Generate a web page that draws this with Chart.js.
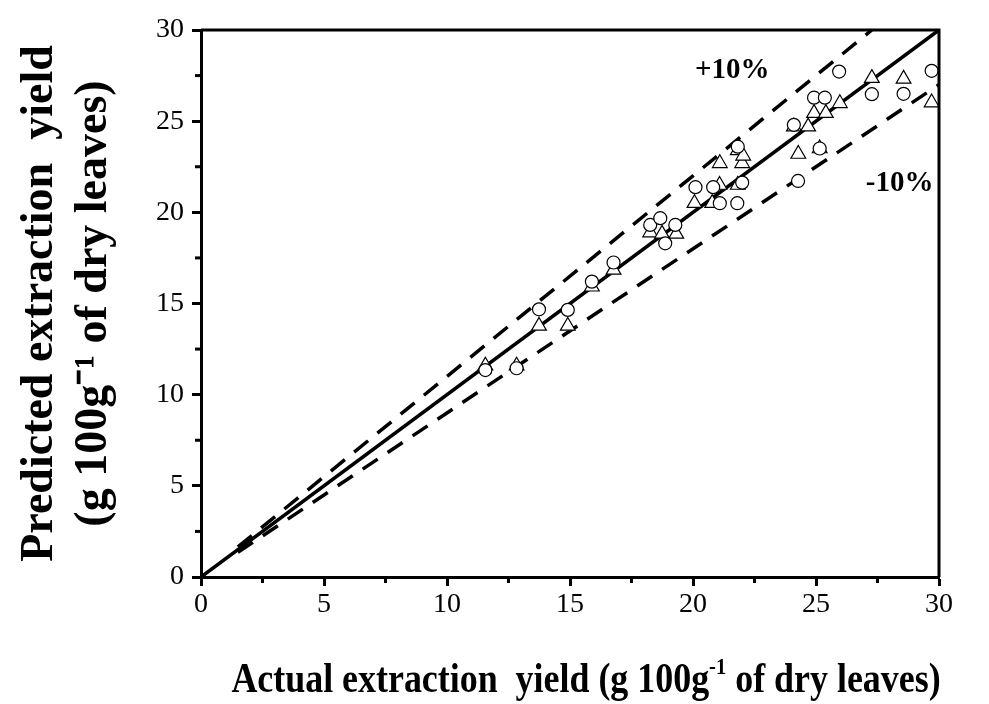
<!DOCTYPE html>
<html>
<head>
<meta charset="utf-8">
<script src="https://cdn.jsdelivr.net/npm/chart.js@4.4.1/dist/chart.umd.min.js"></script>
<style>
  html, body { margin: 0; padding: 0; background: #fff; }
  canvas { display: block; }
</style>
</head>
<body>
<canvas id="chart" width="989" height="704"></canvas>
<script>
// circles (actual, predicted)
const circleX = [11.56, 12.83, 13.74, 14.91, 15.89, 16.77, 18.26, 18.67, 18.87, 19.28, 20.10, 20.82, 21.09, 21.80, 22.00, 21.82, 24.27, 25.15, 24.10, 24.92, 25.36, 25.94, 27.27, 28.56, 29.70];
const circleY = [11.35, 11.45, 14.68, 14.65, 16.20, 17.25, 19.31, 19.68, 18.30, 19.31, 21.38, 21.38, 20.50, 20.50, 21.63, 23.60, 21.72, 23.50, 24.80, 26.29, 26.29, 27.72, 26.48, 26.50, 27.76];

// triangles (actual, predicted)
const triX = [11.56, 12.83, 13.74, 14.91, 15.89, 16.77, 18.26, 18.74, 19.32, 20.06, 20.78, 21.08, 21.82, 21.09, 22.00, 21.82, 22.04, 24.28, 25.15, 24.10, 24.68, 24.92, 25.40, 25.97, 27.27, 28.56, 29.70];
const triY = [11.59, 11.59, 13.77, 13.77, 15.92, 16.84, 18.89, 18.82, 18.82, 20.50, 20.50, 21.50, 21.50, 22.69, 22.69, 23.40, 23.10, 23.20, 23.50, 24.70, 24.70, 25.44, 25.44, 25.98, 27.36, 27.32, 26.02];

// reference lines: y = x and +/-10%
const fitX = [0, 30];
const fitY = [0, 30];
const upperX = [1.5, 27.27];
const upperY = [1.65, 30];
const lowerX = [1.5, 30];
const lowerY = [1.35, 27];

const majorTicks = [0, 5, 10, 15, 20, 25, 30];
const minorTicks = [2.5, 7.5, 12.5, 17.5, 22.5, 27.5];

// x title is drawn in three parts so the -1 can sit as a superscript
const xTitleParts = ["Actual extraction  yield (g 100g", "-1", " of dry leaves)"];
const yTitle = ["Predicted extraction  yield", "(g 100g\u207B\u00B9 of dry leaves)"];

const serif = "'Liberation Serif', 'Times New Roman', serif";

function toPoints(xs, ys) {
    return xs.map((x, i) => ({ x: x, y: ys[i] }));
}

// top/right frame, minor ticks, x title and the +/-10% labels
const framePlugin = {
    id: 'frame',
    afterDraw(chart) {
        const ctx = chart.ctx;
        const a = chart.chartArea;
        const xs = chart.scales.x;
        const ys = chart.scales.y;
        ctx.save();
        ctx.strokeStyle = '#000';
        ctx.lineWidth = 3;
        ctx.beginPath();
        ctx.moveTo(a.left, a.top);
        ctx.lineTo(a.right, a.top);
        ctx.lineTo(a.right, a.bottom);
        ctx.stroke();

        minorTicks.forEach(v => {
            const px = xs.getPixelForValue(v);
            ctx.beginPath();
            ctx.moveTo(px, a.bottom);
            ctx.lineTo(px, a.bottom + 6);
            ctx.stroke();
            const py = ys.getPixelForValue(v);
            ctx.beginPath();
            ctx.moveTo(a.left, py);
            ctx.lineTo(a.left - 6, py);
            ctx.stroke();
        });

        ctx.fillStyle = '#000';
        ctx.font = "bold 29px " + serif;
        ctx.textAlign = 'center';
        ctx.textBaseline = 'middle';
        ctx.fillText('+10%', xs.getPixelForValue(21.6), ys.getPixelForValue(27.8));
        ctx.fillText('-10%', xs.getPixelForValue(28.4), ys.getPixelForValue(21.6));

        // x axis title, slightly condensed like the original
        const big = "bold 42px " + serif;
        const small = "bold 24px " + serif;
        ctx.font = big;
        const w0 = ctx.measureText(xTitleParts[0]).width;
        const w2 = ctx.measureText(xTitleParts[2]).width;
        ctx.font = small;
        const w1 = ctx.measureText(xTitleParts[1]).width;
        const sx = 0.855;
        const total = (w0 + w1 + w2) * sx;
        const cx = 586;
        const base = 692;
        ctx.translate(cx - total / 2, base);
        ctx.scale(sx, 1);
        ctx.textAlign = 'left';
        ctx.textBaseline = 'alphabetic';
        ctx.font = big;
        ctx.fillText(xTitleParts[0], 0, 0);
        ctx.font = small;
        ctx.fillText(xTitleParts[1], w0, -18);
        ctx.font = big;
        ctx.fillText(xTitleParts[2], w0 + w1, 0);
        ctx.restore();
    }
};

const ctx = document.getElementById('chart').getContext('2d');
const chart = new Chart(ctx, {
    type: 'scatter',
    data: {
        datasets: [
            {
                label: 'circles',
                data: toPoints(circleX, circleY),
                pointStyle: 'circle',
                pointRadius: 6.5,
                pointBorderWidth: 1.2,
                borderColor: '#000',
                backgroundColor: '#fff',
                order: 0
            },
            {
                label: 'triangles',
                data: toPoints(triX, triY),
                pointStyle: 'triangle',
                pointRadius: 8.5,
                pointBorderWidth: 1.2,
                borderColor: '#000',
                backgroundColor: '#fff',
                order: 0
            },
            {
                label: 'y = x',
                data: toPoints(fitX, fitY),
                showLine: true,
                pointRadius: 0,
                borderColor: '#000',
                borderWidth: 3.5,
                order: 1
            },
            {
                label: '+10%',
                data: toPoints(upperX, upperY),
                showLine: true,
                pointRadius: 0,
                borderColor: '#000',
                borderWidth: 3.5,
                borderDash: [18, 12],
                order: 1
            },
            {
                label: '-10%',
                data: toPoints(lowerX, lowerY),
                showLine: true,
                pointRadius: 0,
                borderColor: '#000',
                borderWidth: 3.5,
                borderDash: [18, 12],
                order: 1
            }
        ]
    },
    options: {
        responsive: false,
        animation: false,
        devicePixelRatio: 1,
        layout: { padding: { top: 30, right: 50, left: 0, bottom: 0 } },
        plugins: {
            legend: { display: false },
            tooltip: { enabled: false }
        },
        scales: {
            x: {
                type: 'linear',
                min: 0,
                max: 30,
                afterBuildTicks: s => { s.ticks = majorTicks.map(v => ({ value: v })); },
                afterFit: s => { s.height = 127; },
                ticks: { color: '#000', padding: 2, font: { family: serif, size: 28 } },
                grid: { drawOnChartArea: false, tickLength: 9, tickWidth: 3, color: '#000' },
                border: { width: 3, color: '#000' },
                title: { display: false }
            },
            y: {
                type: 'linear',
                min: 0,
                max: 30,
                afterBuildTicks: s => { s.ticks = majorTicks.map(v => ({ value: v })); },
                afterFit: s => { s.width = 201; },
                ticks: { color: '#000', padding: 8, font: { family: serif, size: 28 } },
                grid: { drawOnChartArea: false, tickLength: 9, tickWidth: 3, color: '#000' },
                border: { width: 3, color: '#000' },
                title: {
                    display: true,
                    text: yTitle,
                    color: '#000',
                    font: { family: serif, size: 46, weight: 'bold', lineHeight: 1.17 },
                    padding: { top: 13, bottom: 0 }
                }
            }
        }
    },
    plugins: [framePlugin]
});
</script>
</body>
</html>
